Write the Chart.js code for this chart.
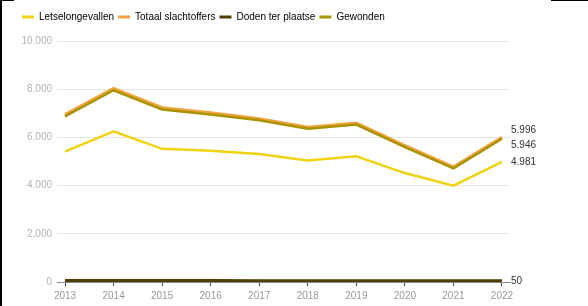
<!DOCTYPE html>
<html>
<head>
<meta charset="utf-8">
<script src="https://cdn.jsdelivr.net/npm/chart.js@4"></script>
<style>
    html, body { margin: 0; padding: 0; background: #fff; }
    #wrap { position: relative; width: 588px; height: 306px; }
    .edge { position: absolute; background: #000; }
</style>
</head>
<body>
<div id="wrap">
    <canvas id="chart"></canvas>
    <div class="edge" style="left:0;top:0;width:2px;height:306px"></div>
    <div class="edge" style="left:0;top:0;width:14px;height:1px"></div>
    <div class="edge" style="left:551px;top:0;width:37px;height:1px"></div>
</div>
<script>
var years = [2013, 2014, 2015, 2016, 2017, 2018, 2019, 2020, 2021, 2022];
var letselongevallen = [5410, 6250, 5525, 5450, 5310, 5040, 5220, 4520, 3995, 4981];
var totaalSlachtoffers = [6935, 8020, 7220, 7010, 6765, 6410, 6585, 5650, 4765, 5996];
var dodenTerPlaatse = [62, 64, 60, 58, 55, 50, 52, 50, 48, 50];
var gewonden = [6873, 7956, 7160, 6952, 6710, 6360, 6533, 5600, 4717, 5946];
var yTicks = [0, 2000, 4000, 6000, 8000, 10000];

function fmt(v) {
    return String(v).replace(/\B(?=(\d{3})+(?!\d))/g, '.');
}

function points(values) {
    var out = [];
    for (var i = 0; i < years.length; i++) {
        out.push({ x: years[i], y: values[i] });
    }
    return out;
}

function line(label, values, color, width, order) {
    return {
        label: label,
        data: points(values),
        borderColor: color,
        backgroundColor: color,
        borderWidth: width,
        pointRadius: 0,
        tension: 0,
        fill: false,
        order: order
    };
}

// extra room under the legend
var legendGap = {
    id: 'legendGap',
    beforeInit: function(chart) {
        var fit = chart.legend.fit;
        chart.legend.fit = function() {
            fit.bind(chart.legend)();
            this.height += 9;
        };
    }
};

var endLabels = {
    id: 'endLabels',
    afterDatasetsDraw: function(chart) {
        var ctx = chart.ctx;
        var items = [];
        chart.data.datasets.forEach(function(ds, i) {
            var meta = chart.getDatasetMeta(i);
            var last = meta.data[meta.data.length - 1];
            items.push({ y: last.y, text: fmt(ds.data[ds.data.length - 1].y) });
        });
        items.sort(function(a, b) { return a.y - b.y; });
        var gap = 15;
        // push overlapping labels apart, keeping groups centred
        var groups = items.map(function(it) { return { list: [it], y: it.y }; });
        var moved = true;
        while (moved) {
            moved = false;
            for (var g = 0; g < groups.length - 1; g++) {
                var a = groups[g], b = groups[g + 1];
                var aBottom = a.y + (a.list.length - 1) * gap / 2;
                var bTop = b.y - (b.list.length - 1) * gap / 2;
                if (bTop - aBottom < gap) {
                    var list = a.list.concat(b.list);
                    var sum = 0;
                    list.forEach(function(it) { sum += it.y; });
                    groups.splice(g, 2, { list: list, y: sum / list.length });
                    moved = true;
                    break;
                }
            }
        }
        ctx.save();
        ctx.font = '10px "Liberation Sans", Arial, sans-serif';
        ctx.fillStyle = '#333';
        ctx.textBaseline = 'middle';
        ctx.textAlign = 'left';
        groups.forEach(function(grp) {
            var start = grp.y - (grp.list.length - 1) * gap / 2;
            grp.list.forEach(function(it, k) {
                ctx.fillText(it.text, chart.chartArea.right + 1, start + k * gap);
            });
        });
        ctx.restore();
    }
};

new Chart(document.getElementById('chart'), {
    type: 'line',
    data: {
        datasets: [
            line('Letselongevallen', letselongevallen, '#f0d30f', 2.5, 0),
            line('Totaal slachtoffers', totaalSlachtoffers, '#f2a33a', 3.5, 2),
            line('Doden ter plaatse', dodenTerPlaatse, '#4d4000', 3, 3),
            line('Gewonden', gewonden, '#a99400', 2.5, 1)
        ]
    },
    options: {
        responsive: true,
        maintainAspectRatio: false,
        animation: false,
        layout: { padding: { left: 18, right: 78, top: 8, bottom: 0 } },
        plugins: {
            tooltip: { enabled: false },
            legend: {
                position: 'top',
                align: 'start',
                labels: {
                    boxWidth: 12,
                    boxHeight: 3,
                    padding: 4,
                    color: '#333',
                    font: { family: '"Liberation Sans", Arial, sans-serif', size: 10 },
                    generateLabels: function(chart) {
                        return chart.data.datasets.map(function(ds, i) {
                            return {
                                text: ds.label,
                                fillStyle: ds.borderColor,
                                strokeStyle: ds.borderColor,
                                lineWidth: 0,
                                datasetIndex: i
                            };
                        });
                    }
                }
            }
        },
        scales: {
            x: {
                type: 'linear',
                min: 2012.835,
                max: 2022.165,
                afterBuildTicks: function(scale) {
                    scale.ticks = years.map(function(v) { return { value: v }; });
                },
                afterFit: function(scale) { scale.height = 24; },
                grid: { drawOnChartArea: false, drawTicks: true, tickLength: 4, color: '#444' },
                border: { display: true, color: '#888', width: 1 },
                ticks: {
                    color: '#999',
                    padding: 4,
                    maxRotation: 0,
                    font: { family: '"Liberation Sans", Arial, sans-serif', size: 10 },
                    callback: function(v) { return String(v); }
                }
            },
            y: {
                min: 0,
                max: 10000,
                afterBuildTicks: function(scale) {
                    scale.ticks = yTicks.map(function(v) { return { value: v }; });
                },
                afterFit: function(scale) { scale.width = 39; },
                grid: { color: '#e6e6e6', drawTicks: false },
                border: { display: false },
                ticks: {
                    color: '#b3b3b3',
                    padding: 5,
                    font: { family: '"Liberation Sans", Arial, sans-serif', size: 10 },
                    callback: function(v) { return fmt(v); }
                }
            }
        }
    },
    plugins: [legendGap, endLabels]
});
</script>
</body>
</html>
